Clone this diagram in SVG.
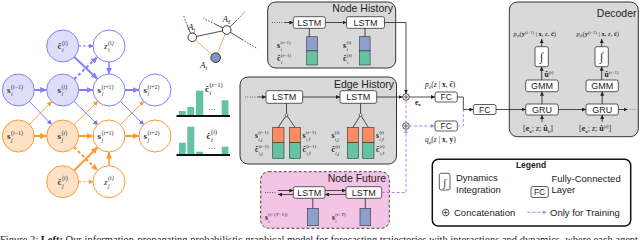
<svg xmlns="http://www.w3.org/2000/svg" width="640" height="240" viewBox="0 0 640 240">
<style>
.m{font-family:"Liberation Serif","DejaVu Serif",serif;fill:#222}
.b{font-weight:bold}
.i{font-style:italic}
.g{font-family:"Liberation Serif","DejaVu Serif",serif;fill:#333;font-size:9px}
.sc{font-size:6px}
.ss{font-size:5px}
.sf{font-family:"Liberation Sans",Arial,sans-serif;fill:#222}
.ttl{font-size:10.5px;text-anchor:end}
.bx{fill:#fff;stroke:#333;stroke-width:0.8}
.panel{fill:#d9d9d9;stroke:#333;stroke-width:1}
.bl{fill:#dedefa;stroke:#8080ff;stroke-width:1}
.bw{fill:#fff;stroke:#8080ff;stroke-width:1}
.ol{fill:#fde2c6;stroke:#ff9933;stroke-width:1}
.ow{fill:#fff;stroke:#ff9933;stroke-width:1}
.k{stroke:#222;stroke-width:0.8;fill:none}
.pd{stroke:#b77ff5;stroke-width:1;stroke-dasharray:3,2;fill:none}
.grn{fill:#66c2a5;stroke:#333;stroke-width:0.6}
.blu{fill:#8da0cb;stroke:#333;stroke-width:0.6}
.org{fill:#fc8d62;stroke:#333;stroke-width:0.6}
.hb{fill:#66c2a5}
</style>
<defs>
<marker id="aB" markerUnits="userSpaceOnUse" markerWidth="7" markerHeight="7" refX="6.5" refY="3.5" orient="auto"><path d="M0,0.5 L7,3.5 L0,6.5 z" fill="#8080ff"/></marker>
<marker id="aBs" markerUnits="userSpaceOnUse" markerWidth="5" markerHeight="5" refX="4.5" refY="2.5" orient="auto"><path d="M0,0 L5,2.5 L0,5 z" fill="#7070ff"/></marker>
<marker id="aO" markerUnits="userSpaceOnUse" markerWidth="7" markerHeight="7" refX="6.5" refY="3.5" orient="auto"><path d="M0,0.5 L7,3.5 L0,6.5 z" fill="#ff9933"/></marker>
<marker id="aOs" markerUnits="userSpaceOnUse" markerWidth="5" markerHeight="5" refX="4.5" refY="2.5" orient="auto"><path d="M0,0 L5,2.5 L0,5 z" fill="#ff9933"/></marker>
<marker id="aK" markerUnits="userSpaceOnUse" markerWidth="4" markerHeight="4" refX="4" refY="2" orient="auto"><path d="M0,0 L4,2 L0,4 z" fill="#222"/></marker>
<marker id="aP" markerUnits="userSpaceOnUse" markerWidth="4" markerHeight="4" refX="4" refY="2" orient="auto"><path d="M0,0 L4,2 L0,4 z" fill="#b77ff5"/></marker>
</defs>

<!-- Left graphical model -->
<g id="connectors-graph" fill="none">
<g stroke="#8080ff" stroke-width="2">
<line x1="34.3" y1="90" x2="46.7" y2="90" marker-end="url(#aB)"/>
<line x1="78.7" y1="90" x2="93" y2="90" marker-end="url(#aB)"/>
<line x1="125" y1="90" x2="139" y2="90" marker-end="url(#aB)"/>
<line x1="74.3" y1="57" x2="97.4" y2="79" marker-end="url(#aB)"/>
<line x1="109" y1="62" x2="109" y2="74" stroke-width="1.5" marker-end="url(#aB)"/>
<line x1="74.3" y1="79" x2="97.4" y2="57" stroke-dasharray="3,2.5" marker-end="url(#aB)"/>
<line x1="78.7" y1="46" x2="93" y2="46" stroke-width="1.3" stroke-dasharray="2.5,2" stroke="#a0a0ff" marker-end="url(#aBs)"/>
</g>
<g stroke="#7070ff" stroke-width="0.9">
<line x1="29.4" y1="101.5" x2="51.6" y2="124.5" marker-end="url(#aBs)"/>
<line x1="74" y1="101.3" x2="97.7" y2="124.7" marker-end="url(#aBs)"/>
<line x1="120.3" y1="101.3" x2="143.7" y2="124.7" marker-end="url(#aBs)"/>
</g>
<g stroke="#ff9933" stroke-width="2">
<line x1="34.3" y1="136" x2="46.7" y2="136" marker-end="url(#aO)"/>
<line x1="78.7" y1="136" x2="93" y2="136" marker-end="url(#aO)"/>
<line x1="125" y1="136" x2="139" y2="136" marker-end="url(#aO)"/>
<line x1="74.1" y1="170.5" x2="97.6" y2="147.2" marker-end="url(#aO)"/>
<line x1="109" y1="165.7" x2="109" y2="152" stroke-width="1.5" marker-end="url(#aO)"/>
<line x1="74.1" y1="147.2" x2="97.6" y2="170.5" stroke-dasharray="3,2.5" marker-end="url(#aO)"/>
<line x1="78.7" y1="181.7" x2="93" y2="181.7" stroke-width="1.3" stroke-dasharray="2.5,2" stroke="#ffb366" marker-end="url(#aOs)"/>
</g>
<g stroke="#ff9933" stroke-width="0.9">
<line x1="29.4" y1="124.5" x2="51.6" y2="101.5" marker-end="url(#aOs)"/>
<line x1="74" y1="124.7" x2="97.7" y2="101.3" marker-end="url(#aOs)"/>
<line x1="120.3" y1="124.7" x2="143.7" y2="101.3" marker-end="url(#aOs)"/>
</g>
</g>

<g id="c_i"><circle cx="62.7" cy="46" r="16" class="bl"/><text class="g" x="57.5" y="49"><tspan class="b">ĉ</tspan><tspan class="sc" x="62" y="44.5">(<tspan class="i">t</tspan>)</tspan><tspan class="sc i" x="62" y="51.5">i</tspan></text></g>
<g id="z_i"><circle cx="109" cy="46" r="16" class="bw"/><text class="g i" x="104" y="49" fill="#555">z<tspan class="sc" x="108" y="44.5">(t)</tspan><tspan class="sc" x="108" y="51.5">i</tspan></text></g>
<g id="s_i_tm1"><circle cx="18.3" cy="90" r="16" class="bl"/><text class="g" x="7" y="93"><tspan class="b">s</tspan><tspan class="sc" x="11" y="88.5">(<tspan class="i">t</tspan>−1)</tspan><tspan class="sc i" x="11" y="95.5">i</tspan></text></g>
<g id="s_i_t"><circle cx="62.7" cy="90" r="16" class="bl"/><text class="g" x="57.5" y="93"><tspan class="b">s</tspan><tspan class="sc" x="61.5" y="88.5">(<tspan class="i">t</tspan>)</tspan><tspan class="sc i" x="61.5" y="95.5">i</tspan></text></g>
<g id="s_i_tp1"><circle cx="109" cy="90" r="16" class="bw"/><text class="g" x="97.5" y="93"><tspan class="b">s</tspan><tspan class="sc" x="101.5" y="88.5">(<tspan class="i">t</tspan>+1)</tspan><tspan class="sc i" x="101.5" y="95.5">i</tspan></text></g>
<g id="s_i_tp2"><circle cx="155" cy="90" r="16" class="bw"/><text class="g" x="143.5" y="93"><tspan class="b">s</tspan><tspan class="sc" x="147.5" y="88.5">(<tspan class="i">t</tspan>+2)</tspan><tspan class="sc i" x="147.5" y="95.5">i</tspan></text></g>
<g id="s_j_tm1"><circle cx="18.3" cy="136" r="16" class="ol"/><text class="g" x="7" y="139"><tspan class="b">s</tspan><tspan class="sc" x="11" y="134.5">(<tspan class="i">t</tspan>−1)</tspan><tspan class="sc i" x="11" y="142">j</tspan></text></g>
<g id="s_j_t"><circle cx="62.7" cy="136" r="16" class="ol"/><text class="g" x="57.5" y="139"><tspan class="b">s</tspan><tspan class="sc" x="61.5" y="134.5">(<tspan class="i">t</tspan>)</tspan><tspan class="sc i" x="61.5" y="142">j</tspan></text></g>
<g id="s_j_tp1"><circle cx="109" cy="136" r="16" class="ow"/><text class="g" x="97.5" y="139"><tspan class="b">s</tspan><tspan class="sc" x="101.5" y="134.5">(<tspan class="i">t</tspan>+1)</tspan><tspan class="sc i" x="101.5" y="142">j</tspan></text></g>
<g id="s_j_tp2"><circle cx="155" cy="136" r="16" class="ow"/><text class="g" x="143.5" y="139"><tspan class="b">s</tspan><tspan class="sc" x="147.5" y="134.5">(<tspan class="i">t</tspan>+2)</tspan><tspan class="sc i" x="147.5" y="142">j</tspan></text></g>
<g id="c_j"><circle cx="62.7" cy="181.7" r="16" class="ol"/><text class="g" x="57.5" y="184.7"><tspan class="b">ĉ</tspan><tspan class="sc" x="62" y="180.2">(<tspan class="i">t</tspan>)</tspan><tspan class="sc i" x="62" y="187.5">j</tspan></text></g>
<g id="z_j"><circle cx="109" cy="181.7" r="16" class="ow"/><text class="g i" x="104" y="184.7" fill="#555">z<tspan class="sc" x="108" y="180.2">(t)</tspan><tspan class="sc" x="108" y="187.5">j</tspan></text></g>

<!-- Agent graph -->
<g id="agent-graph">
<g stroke="#222" stroke-width="0.8" fill="none">
<line x1="192.3" y1="37.3" x2="226.7" y2="30"/>
<line x1="192.3" y1="37.3" x2="187.5" y2="26"/>
<line x1="187.5" y1="26" x2="183.3" y2="15" stroke-dasharray="1.5,1.5"/>
<line x1="226.7" y1="30" x2="215" y2="24"/>
<line x1="215" y1="24" x2="203.3" y2="18.3" stroke-dasharray="1.5,1.5"/>
<line x1="226.7" y1="30" x2="236" y2="21"/>
<line x1="236" y1="21" x2="245" y2="11.7" stroke-dasharray="1.5,1.5"/>
<line x1="226.7" y1="30" x2="242" y2="39.5"/>
<line x1="242" y1="39.5" x2="256.7" y2="48.3" stroke-dasharray="1.5,1.5"/>
</g>
<g stroke="#f5a55a" stroke-width="0.9">
<line x1="192.3" y1="37.3" x2="215.7" y2="57.7"/>
<line x1="226.7" y1="30" x2="215.7" y2="57.7"/>
</g>
<circle cx="192.3" cy="37.3" r="4.3" fill="#fff" stroke="#222" stroke-width="0.9"/>
<circle cx="226.7" cy="30" r="4.3" fill="#fff" stroke="#222" stroke-width="0.9"/>
<circle cx="215.7" cy="57.7" r="4.8" fill="#8095c8" stroke="#222" stroke-width="0.9"/>
<text class="m i" x="188" y="29.5" font-size="9">A<tspan font-size="6" dy="2">j</tspan></text>
<text class="m i" x="222.5" y="21.5" font-size="9">A<tspan font-size="6" dy="2">ℓ</tspan></text>
<text class="m i" x="200" y="67.5" font-size="9">A<tspan font-size="6" dy="2">i</tspan></text>
</g>

<!-- Histograms -->
<g id="hist-tm1">
<rect class="hb" x="179" y="111" width="6.7" height="5"/>
<rect class="hb" x="187.3" y="107" width="6.7" height="9"/>
<rect class="hb" x="196" y="90.7" width="7.3" height="25.3"/>
<text class="m" x="208" y="112" font-size="8">···</text>
<rect class="hb" x="221.7" y="100.3" width="6.7" height="15.7"/>
<line x1="176.5" y1="116" x2="230" y2="116" stroke="#111" stroke-width="1.8"/>
<text class="m" x="205" y="92" font-size="9"><tspan class="b">ĉ</tspan><tspan font-size="6.5" x="209.5" y="86.5">(<tspan class="i">t</tspan>−1)</tspan><tspan font-size="6.5" class="i" x="209.5" y="95">i</tspan></text>
</g>
<g id="hist-t">
<rect class="hb" x="179" y="142.7" width="6.7" height="12.3"/>
<rect class="hb" x="187.3" y="126.7" width="7" height="28.3"/>
<rect class="hb" x="196.3" y="151.7" width="6.7" height="3.3"/>
<text class="m" x="208" y="151" font-size="8">···</text>
<rect class="hb" x="221.7" y="146.7" width="6.7" height="8.3"/>
<line x1="176.5" y1="155" x2="230" y2="155" stroke="#111" stroke-width="1.8"/>
<text class="m" x="206.5" y="139" font-size="9"><tspan class="b">ĉ</tspan><tspan font-size="6.5" x="211" y="133.5">(<tspan class="i">t</tspan>)</tspan><tspan font-size="6.5" class="i" x="211" y="142">i</tspan></text>
</g>

<!-- Node History -->
<g id="node-history">
<rect class="panel" x="267.7" y="2" width="128" height="66" rx="8"/>
<text class="sf ttl" x="393" y="12">Node History</text>
<rect class="bx" x="293.3" y="16.7" width="32" height="11.6" rx="2"/>
<text class="sf" x="309.3" y="25.8" font-size="9" text-anchor="middle">LSTM</text>
<rect class="bx" x="346.5" y="16.7" width="38" height="11.6" rx="2"/>
<text class="sf" x="365.5" y="25.8" font-size="9" text-anchor="middle">LSTM</text>
<rect class="blu" x="306.7" y="36.7" width="10.6" height="14.2"/>
<rect class="grn" x="306.7" y="50.9" width="10.6" height="14.1"/>
<rect class="blu" x="359.5" y="36.7" width="10.6" height="14.2"/>
<rect class="grn" x="359.5" y="50.9" width="10.6" height="14.1"/>
<text class="m" x="277" y="48" font-size="8"><tspan class="b">s</tspan><tspan class="ss" x="280.5" y="44">(<tspan class="i">t</tspan>−1)</tspan><tspan class="ss i" x="280.5" y="50.5">i</tspan></text>
<text class="m" x="277" y="61" font-size="8"><tspan class="b">ĉ</tspan><tspan class="ss" x="281" y="57">(<tspan class="i">t</tspan>−1)</tspan><tspan class="ss i" x="281" y="63.5">i</tspan></text>
<text class="m" x="343" y="48" font-size="8"><tspan class="b">s</tspan><tspan class="ss" x="346.5" y="44">(<tspan class="i">t</tspan>)</tspan><tspan class="ss i" x="346.5" y="50.5">i</tspan></text>
<text class="m" x="343" y="61" font-size="8"><tspan class="b">ĉ</tspan><tspan class="ss" x="347" y="57">(<tspan class="i">t</tspan>)</tspan><tspan class="ss i" x="347" y="63.5">i</tspan></text>
</g>

<!-- Edge History -->
<g id="edge-history">
<rect class="panel" x="240" y="77" width="156.5" height="87" rx="8"/>
<text class="sf ttl" x="394" y="88">Edge History</text>
<rect class="bx" x="266" y="90.7" width="36.7" height="12.6" rx="2"/>
<text class="sf" x="284.3" y="100.3" font-size="9" text-anchor="middle">LSTM</text>
<rect class="bx" x="340" y="90.7" width="36.7" height="12.6" rx="2"/>
<text class="sf" x="358.3" y="100.3" font-size="9" text-anchor="middle">LSTM</text>
<rect class="org" x="272.7" y="127.3" width="11.3" height="15.4"/>
<rect class="grn" x="272.7" y="142.7" width="11.3" height="15.6"/>
<rect class="org" x="289.3" y="127.3" width="11.3" height="15.4"/>
<rect class="grn" x="289.3" y="142.7" width="11.3" height="15.6"/>
<rect class="org" x="347.3" y="127.3" width="11.3" height="15.4"/>
<rect class="grn" x="347.3" y="142.7" width="11.3" height="15.6"/>
<rect class="org" x="362.7" y="127.3" width="11.3" height="15.4"/>
<rect class="grn" x="362.7" y="142.7" width="11.3" height="15.6"/>
<text class="m" x="255" y="138" font-size="7.5"><tspan class="b">s</tspan><tspan class="ss" x="258.3" y="134">(<tspan class="i">t</tspan>−1)</tspan><tspan class="ss i" x="258.3" y="140.5">i,j</tspan></text>
<text class="m" x="255" y="152" font-size="7.5"><tspan class="b">ĉ</tspan><tspan class="ss" x="258.7" y="148">(<tspan class="i">t</tspan>−1)</tspan><tspan class="ss i" x="258.7" y="154.5">i,j</tspan></text>
<text class="m" x="302.5" y="138" font-size="7.5"><tspan class="b">s</tspan><tspan class="ss" x="305.8" y="134">(<tspan class="i">t</tspan>−1)</tspan><tspan class="ss i" x="305.8" y="140.5">i,ℓ</tspan></text>
<text class="m" x="302.5" y="152" font-size="7.5"><tspan class="b">ĉ</tspan><tspan class="ss" x="306.2" y="148">(<tspan class="i">t</tspan>−1)</tspan><tspan class="ss i" x="306.2" y="154.5">i,ℓ</tspan></text>
<text class="m" x="331.5" y="138" font-size="7.5"><tspan class="b">s</tspan><tspan class="ss" x="334.8" y="134">(<tspan class="i">t</tspan>)</tspan><tspan class="ss i" x="334.8" y="140.5">i,j</tspan></text>
<text class="m" x="331.5" y="152" font-size="7.5"><tspan class="b">ĉ</tspan><tspan class="ss" x="335.2" y="148">(<tspan class="i">t</tspan>)</tspan><tspan class="ss i" x="335.2" y="154.5">i,j</tspan></text>
<text class="m" x="376" y="138" font-size="7.5"><tspan class="b">s</tspan><tspan class="ss" x="379.3" y="134">(<tspan class="i">t</tspan>)</tspan><tspan class="ss i" x="379.3" y="140.5">i,ℓ</tspan></text>
<text class="m" x="376" y="152" font-size="7.5"><tspan class="b">ĉ</tspan><tspan class="ss" x="379.7" y="148">(<tspan class="i">t</tspan>)</tspan><tspan class="ss i" x="379.7" y="154.5">i,ℓ</tspan></text>
</g>

<!-- Node Future -->
<g id="node-future">
<rect x="260.7" y="171.7" width="128.6" height="56.6" rx="8" fill="#f4c4e4" stroke="#333" stroke-width="0.9" stroke-dasharray="3,2"/>
<text class="sf ttl" x="386" y="182">Node Future</text>
<rect class="bx" x="293.3" y="186.7" width="31.7" height="11.6" rx="2"/>
<text class="sf" x="309.2" y="195.8" font-size="9" text-anchor="middle">LSTM</text>
<rect class="bx" x="346" y="186.7" width="35.7" height="11.6" rx="2"/>
<text class="sf" x="363.8" y="195.8" font-size="9" text-anchor="middle">LSTM</text>
<rect class="blu" x="307.3" y="208.3" width="11" height="17.4"/>
<rect class="blu" x="360" y="208.3" width="10.7" height="17.4"/>
<text class="m" x="265" y="220" font-size="7.5"><tspan class="b">s</tspan><tspan class="ss" x="268.3" y="216">(<tspan class="i">t</tspan>+(<tspan class="i">T</tspan>−1))</tspan><tspan class="ss i" x="268.3" y="222.5">i</tspan></text>
<text class="m" x="332" y="220" font-size="7.5"><tspan class="b">s</tspan><tspan class="ss" x="335.3" y="216">(<tspan class="i">t</tspan>+<tspan class="i">T</tspan>)</tspan><tspan class="ss i" x="335.3" y="222.5">i</tspan></text>
</g>

<!-- Concatenation nodes -->
<g id="concat-1"><circle cx="406" cy="97" r="3.3" fill="#fff" stroke="#222" stroke-width="0.8"/><path d="M404,97 H408 M406,95 V99" stroke="#222" stroke-width="0.7"/></g>
<g id="concat-2"><circle cx="406" cy="126" r="3.3" fill="#fff" stroke="#222" stroke-width="0.8"/><path d="M404,126 H408 M406,124 V128" stroke="#222" stroke-width="0.7"/></g>

<!-- FC layers -->
<g id="fc-p"><rect class="bx" x="435" y="92" width="22.3" height="10" rx="2"/><text class="sf" x="446.2" y="100.2" font-size="8.5" text-anchor="middle">FC</text>
<text class="m" x="425" y="87" font-size="7.5"><tspan class="i">p</tspan><tspan font-size="5" class="i" dy="1.5">θ</tspan><tspan dy="-1.5">(</tspan><tspan class="i">z</tspan> | <tspan class="b">x</tspan>, <tspan class="b">ĉ</tspan>)</text></g>
<g id="fc-q"><rect class="bx" x="435" y="121" width="22.3" height="10" rx="2"/><text class="sf" x="446.2" y="129.2" font-size="8.5" text-anchor="middle">FC</text>
<text class="m" x="425" y="142" font-size="7.5"><tspan class="i">q</tspan><tspan font-size="5" class="i" dy="1.5">ϕ</tspan><tspan dy="-1.5">(</tspan><tspan class="i">z</tspan> | <tspan class="b">x</tspan>, <tspan class="b">y</tspan>)</text></g>
<g id="fc-merge"><rect class="bx" x="473.3" y="104.5" width="22.7" height="10" rx="2"/><text class="sf" x="484.7" y="112.7" font-size="8.5" text-anchor="middle">FC</text></g>
<text class="m" x="415" y="104.5" font-size="7.5"><tspan class="b">e</tspan><tspan font-size="5" class="b" dy="1.5">x</tspan></text>

<!-- Decoder -->
<g id="decoder">
<rect class="panel" x="509.3" y="2" width="129" height="134.7" rx="8"/>
<text class="sf ttl" x="636.5" y="17">Decoder</text>
<rect class="bx" x="535" y="46.7" width="13.3" height="20" rx="2"/>
<text class="m i" x="541.7" y="61" font-size="12" text-anchor="middle">∫</text>
<rect class="bx" x="595" y="46.7" width="13.3" height="20" rx="2"/>
<text class="m i" x="601.7" y="61" font-size="12" text-anchor="middle">∫</text>
<rect class="bx" x="525.7" y="80" width="32.6" height="11.7" rx="2"/>
<text class="sf" x="542" y="89.2" font-size="9" text-anchor="middle">GMM</text>
<rect class="bx" x="586" y="80" width="32.3" height="11.7" rx="2"/>
<text class="sf" x="602.2" y="89.2" font-size="9" text-anchor="middle">GMM</text>
<rect class="bx" x="525.7" y="104" width="32.6" height="11" rx="2"/>
<text class="sf" x="542" y="112.8" font-size="9" text-anchor="middle">GRU</text>
<rect class="bx" x="586" y="104" width="32.3" height="11" rx="2"/>
<text class="sf" x="602.2" y="112.8" font-size="9" text-anchor="middle">GRU</text>
<text class="m" x="629" y="112" font-size="7">···</text>
<text class="m" x="513.5" y="36" font-size="6.5"><tspan class="i">p</tspan><tspan font-size="4.5" class="i" dy="1.3">ψ</tspan><tspan dy="-1.3">(</tspan><tspan class="b">y</tspan><tspan font-size="4.5" dy="-2.5">(<tspan class="i">t</tspan>+1)</tspan><tspan dy="2.5"> | </tspan><tspan class="b">x</tspan>, <tspan class="i">z</tspan>, <tspan class="b">ĉ</tspan>)</text>
<text class="m" x="576.5" y="36" font-size="6.5"><tspan class="i">p</tspan><tspan font-size="4.5" class="i" dy="1.3">ψ</tspan><tspan dy="-1.3">(</tspan><tspan class="b">y</tspan><tspan font-size="4.5" dy="-2.5">(<tspan class="i">t</tspan>+2)</tspan><tspan dy="2.5"> | </tspan><tspan class="b">x</tspan>, <tspan class="i">z</tspan>, <tspan class="b">ĉ</tspan>)</text>
<text class="m" x="544.5" y="77" font-size="7.5"><tspan class="b">û</tspan><tspan font-size="5" dy="-3">(<tspan class="i">t</tspan>)</tspan></text>
<text class="m" x="604.5" y="77" font-size="7.5"><tspan class="b">û</tspan><tspan font-size="5" dy="-3">(<tspan class="i">t</tspan>+1)</tspan></text>
<text class="m" x="523" y="131" font-size="8">[<tspan class="b">e</tspan><tspan font-size="5" class="b" dy="1.5">x</tspan><tspan dy="-1.5">; </tspan><tspan class="i">z</tspan>; <tspan class="b">û</tspan><tspan font-size="5" dy="1.5">0</tspan><tspan dy="-1.5">]</tspan></text>
<text class="m" x="579" y="131" font-size="8">[<tspan class="b">e</tspan><tspan font-size="5" class="b" dy="1.5">x</tspan><tspan dy="-1.5">; </tspan><tspan class="i">z</tspan>; <tspan class="b">û</tspan><tspan font-size="5" dy="-3">(<tspan class="i">t</tspan>)</tspan><tspan dy="3">]</tspan></text>
</g>

<!-- Connectors (right part) -->
<g id="connectors">
<line x1="272" y1="22.5" x2="284" y2="22.5" class="k" stroke-dasharray="0.8,1.6"/>
<line x1="284" y1="22.5" x2="293.3" y2="22.5" class="k" marker-end="url(#aK)"/>
<line x1="325.3" y1="22.5" x2="346.5" y2="22.5" class="k" marker-end="url(#aK)"/>
<polyline points="384.5,22.5 406,22.5 406,93.7" class="k" marker-end="url(#aK)"/>
<line x1="309.3" y1="28.3" x2="309.3" y2="36.7" class="k"/>
<line x1="365" y1="28.3" x2="365" y2="36.7" class="k"/>
<line x1="245" y1="97" x2="257" y2="97" class="k" stroke-dasharray="0.8,1.6"/>
<line x1="257" y1="97" x2="266" y2="97" class="k" marker-end="url(#aK)"/>
<line x1="302.7" y1="97" x2="340" y2="97" class="k" marker-end="url(#aK)"/>
<line x1="376.7" y1="97" x2="402.7" y2="97" class="k" marker-end="url(#aK)"/>
<polyline points="286.5,103.3 286.5,115 278.3,127.3" class="k"/>
<line x1="286.5" y1="115" x2="295" y2="127.3" class="k"/>
<circle cx="286.5" cy="115" r="1.4" fill="#fff" stroke="#222" stroke-width="0.6"/>
<polyline points="360.6,103.3 360.6,115 353,127.3" class="k"/>
<line x1="360.6" y1="115" x2="368.3" y2="127.3" class="k"/>
<circle cx="360.6" cy="115" r="1.4" fill="#fff" stroke="#222" stroke-width="0.6"/>
<line x1="265" y1="192.5" x2="276" y2="192.5" class="k" stroke-dasharray="0.8,1.6"/>
<line x1="278" y1="190.5" x2="293.3" y2="190.5" class="k" marker-end="url(#aK)"/>
<line x1="293.3" y1="194.5" x2="278" y2="194.5" class="k" marker-end="url(#aK)"/>
<line x1="325" y1="190.5" x2="346" y2="190.5" class="k" marker-end="url(#aK)"/>
<line x1="346" y1="194.5" x2="325" y2="194.5" class="k" marker-end="url(#aK)"/>
<line x1="312.8" y1="198.3" x2="312.8" y2="208.3" class="k"/>
<line x1="365.3" y1="198.3" x2="365.3" y2="208.3" class="k"/>
<line x1="409.3" y1="97" x2="435" y2="97" class="k" marker-end="url(#aK)"/>
<polyline points="457.3,97 463.3,97 463.3,109.5 473.3,109.5" class="k" marker-end="url(#aK)"/>
<line x1="496" y1="109.5" x2="525.7" y2="109.5" class="k" marker-end="url(#aK)"/>
<line x1="558.3" y1="109.5" x2="586" y2="109.5" class="k" marker-end="url(#aK)"/>
<line x1="618.3" y1="109.5" x2="627.5" y2="109.5" class="k" marker-end="url(#aK)"/>
<line x1="542" y1="122" x2="542" y2="115" class="k" marker-end="url(#aK)"/>
<line x1="602.2" y1="122" x2="602.2" y2="115" class="k" marker-end="url(#aK)"/>
<line x1="542" y1="104" x2="542" y2="91.7" class="k" marker-end="url(#aK)"/>
<line x1="602.2" y1="104" x2="602.2" y2="91.7" class="k" marker-end="url(#aK)"/>
<line x1="541.7" y1="80" x2="541.7" y2="66.7" class="k" marker-end="url(#aK)"/>
<line x1="601.7" y1="80" x2="601.7" y2="66.7" class="k" marker-end="url(#aK)"/>
<line x1="541.7" y1="46.7" x2="541.7" y2="39" class="k" marker-end="url(#aK)"/>
<line x1="601.7" y1="46.7" x2="601.7" y2="39" class="k" marker-end="url(#aK)"/>
<line x1="406" y1="100.3" x2="406" y2="122.7" class="pd"/>
<polyline points="381.7,192.5 406,192.5 406,129.3" class="pd" marker-end="url(#aP)"/>
<line x1="409.3" y1="126" x2="435" y2="126" class="pd" marker-end="url(#aP)"/>
<polyline points="457.3,126 463.3,126 463.3,110" class="pd"/>
</g>

<!-- Legend -->
<g id="legend">
<rect x="432.3" y="159.3" width="198.4" height="66.7" rx="6" fill="#fff" stroke="#111" stroke-width="1.5"/>
<text class="sf" x="531" y="168" font-size="8.5" font-weight="bold" text-anchor="middle">Legend</text>
<rect class="bx" x="439.3" y="173.3" width="10.7" height="16.7" rx="2"/>
<text class="m i" x="444.6" y="185.5" font-size="10" text-anchor="middle">∫</text>
<text class="sf" x="456" y="180.5" font-size="9.5">Dynamics</text>
<text class="sf" x="456" y="192.5" font-size="9.5">Integration</text>
<rect class="bx" x="531" y="186.5" width="17.3" height="11" rx="2"/>
<text class="sf" x="539.6" y="195.2" font-size="8.5" text-anchor="middle">FC</text>
<text class="sf" x="551.5" y="181.5" font-size="9.5">Fully-Connected</text>
<text class="sf" x="551.5" y="193" font-size="9.5">Layer</text>
<circle cx="445.7" cy="212.5" r="3.3" fill="#fff" stroke="#222" stroke-width="0.8"/>
<path d="M443.7,212.5 H447.7 M445.7,210.5 V214.5" stroke="#222" stroke-width="0.7"/>
<text class="sf" x="454" y="215.5" font-size="9.5">Concatenation</text>
<line x1="527.3" y1="212.3" x2="546.7" y2="212.3" class="pd" marker-end="url(#aP)"/>
<text class="sf" x="550" y="215.5" font-size="9.5">Only for Training</text>
</g>

<!-- Caption (clipped at bottom) -->
<text class="m" x="0" y="243" font-size="10.5" textLength="638" lengthAdjust="spacing">Figure 2: <tspan class="b">Left:</tspan> Our information-propagating probabilistic graphical model for forecasting trajectories with interactions and dynamics, where each agent</text>
</svg>
